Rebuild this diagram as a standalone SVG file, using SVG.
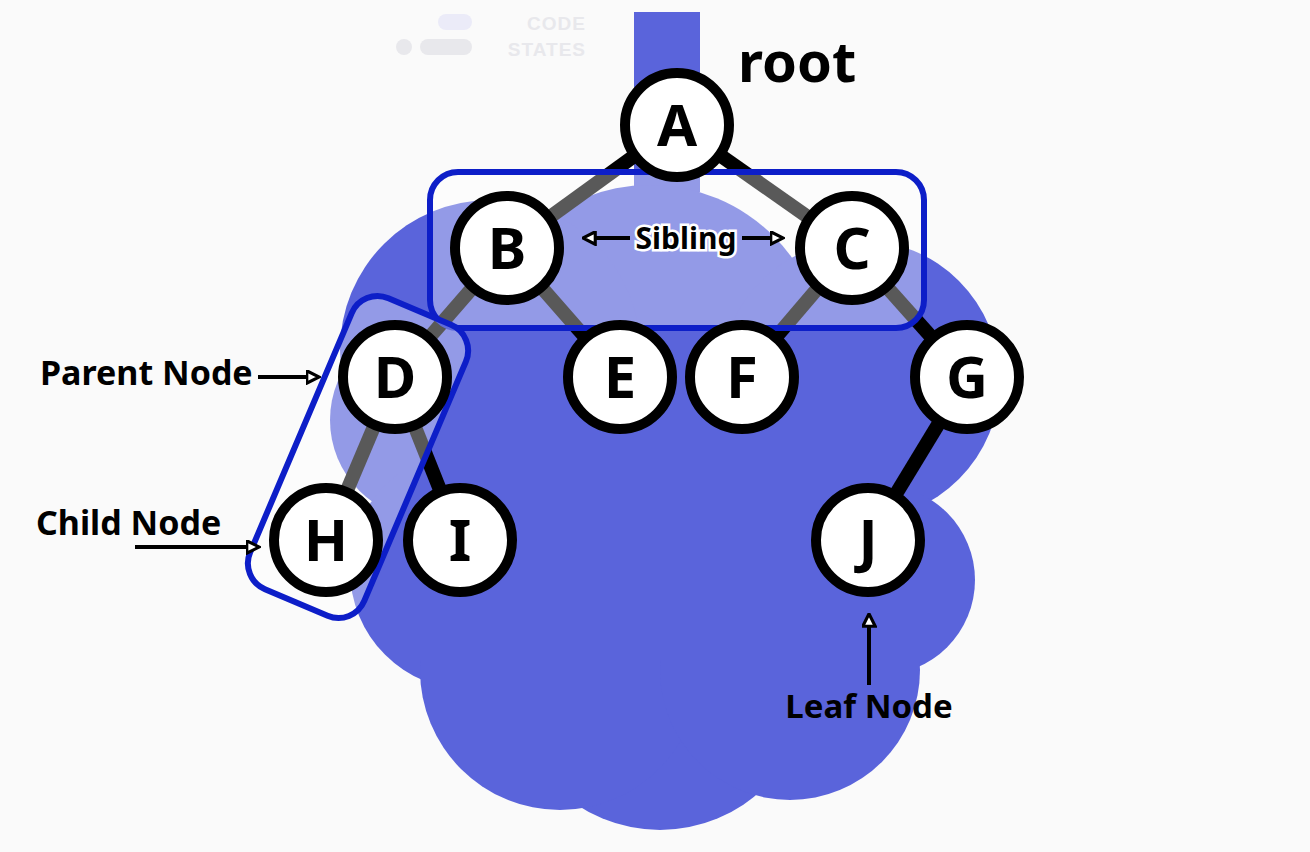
<svg xmlns="http://www.w3.org/2000/svg" width="1310" height="852" viewBox="0 0 1310 852">
<defs>
<style>
.lbl{font-family:"Noto Sans","Liberation Sans",sans-serif;font-weight:bold;fill:#000}
.node circle{fill:#fff;stroke:#000;stroke-width:10}
.node text{font-family:"Noto Sans","Liberation Sans",sans-serif;font-weight:bold;font-size:58px;text-anchor:middle;fill:#000}
.edge{stroke:#000;stroke-width:14}
.box{fill:#fff;fill-opacity:0.35;stroke:#0d1ec8;stroke-width:6}
</style>
<marker id="ah" viewBox="0 0 12 12" refX="10" refY="6" markerWidth="15" markerHeight="15" markerUnits="userSpaceOnUse" orient="auto-start-reverse">
<path d="M1,1 L11,6 L1,11 Z" fill="#fff" stroke="#000" stroke-width="2.5"/>
</marker>
</defs>
<rect width="1310" height="852" fill="#fafafa"/>
<g id="logo" fill="#e8e8ec">
<rect x="438" y="14" width="34" height="16" rx="8" fill="#ebebf8"/>
<circle cx="404" cy="47" r="8"/>
<rect x="420" y="39" width="52" height="16" rx="8"/>
<text x="586" y="30" font-family="Liberation Sans,sans-serif" font-weight="bold" font-size="19" letter-spacing="1" text-anchor="end">CODE</text>
<text x="586" y="56" font-family="Liberation Sans,sans-serif" font-weight="bold" font-size="19" letter-spacing="1" text-anchor="end">STATES</text>
</g>
<g id="blob" fill="#5a64db">
<rect x="634" y="12" width="66" height="180"/>
<circle cx="650" cy="360" r="175"/>
<circle cx="490" cy="350" r="150"/>
<circle cx="430" cy="420" r="100"/>
<circle cx="860" cy="380" r="140"/>
<circle cx="470" cy="570" r="120"/>
<circle cx="880" cy="580" r="95"/>
<circle cx="660" cy="680" r="150"/>
<circle cx="560" cy="670" r="140"/>
<circle cx="790" cy="670" r="130"/>
<rect x="400" y="330" width="520" height="330"/>
</g>
<g id="connectors">
<line class="edge" x1="677" y1="125" x2="507" y2="248"/>
<line class="edge" x1="677" y1="125" x2="852" y2="248"/>
<line class="edge" x1="507" y1="248" x2="395" y2="377"/>
<line class="edge" x1="507" y1="248" x2="620" y2="377"/>
<line class="edge" x1="852" y1="248" x2="742" y2="377"/>
<line class="edge" x1="852" y1="248" x2="967" y2="377"/>
<line class="edge" x1="395" y1="377" x2="326" y2="540"/>
<line class="edge" x1="395" y1="377" x2="460" y2="540"/>
<line class="edge" x1="967" y1="377" x2="868" y2="540"/>
</g>
<g id="boxes">
<rect class="box" x="430" y="172" width="494" height="156" rx="28"/>
<rect class="box" x="-158" y="-62" width="316" height="124" rx="28" transform="translate(358,457) rotate(113)"/>
</g>
<g id="nA" class="node"><circle cx="677" cy="125" r="52"/><text x="677" y="146">A</text></g>
<g id="nB" class="node"><circle cx="507" cy="248" r="52"/><text x="507" y="269">B</text></g>
<g id="nC" class="node"><circle cx="852" cy="248" r="52"/><text x="852" y="269">C</text></g>
<g id="nD" class="node"><circle cx="395" cy="377" r="52"/><text x="395" y="398">D</text></g>
<g id="nE" class="node"><circle cx="620" cy="377" r="52"/><text x="620" y="398">E</text></g>
<g id="nF" class="node"><circle cx="742" cy="377" r="52"/><text x="742" y="398">F</text></g>
<g id="nG" class="node"><circle cx="967" cy="377" r="52"/><text x="967" y="398">G</text></g>
<g id="nH" class="node"><circle cx="326" cy="540" r="52"/><text x="326" y="561">H</text></g>
<g id="nI" class="node"><circle cx="460" cy="540" r="52"/><text x="460" y="561">I</text></g>
<g id="nJ" class="node"><circle cx="868" cy="540" r="52"/><text x="868" y="561">J</text></g>
<g id="annotations">
<text class="lbl" x="738" y="82" font-size="56">root</text>
<line x1="630" y1="238" x2="584" y2="238" stroke="#000" stroke-width="4" marker-end="url(#ah)"/>
<line x1="742" y1="238" x2="782" y2="238" stroke="#000" stroke-width="4" marker-end="url(#ah)"/>
<text class="lbl" x="686" y="249" font-size="30" text-anchor="middle" stroke="#fff" stroke-width="5" paint-order="stroke">Sibling</text>
<text class="lbl" x="40" y="385" font-size="34">Parent Node</text>
<line x1="258" y1="377" x2="318" y2="377" stroke="#000" stroke-width="4" marker-end="url(#ah)"/>
<text class="lbl" x="36" y="535" font-size="34">Child Node</text>
<line x1="135" y1="547" x2="258" y2="547" stroke="#000" stroke-width="4" marker-end="url(#ah)"/>
<line x1="869" y1="685" x2="869" y2="615" stroke="#000" stroke-width="4" marker-end="url(#ah)"/>
<text class="lbl" x="869" y="718" font-size="33" text-anchor="middle">Leaf Node</text>
</g>
</svg>
